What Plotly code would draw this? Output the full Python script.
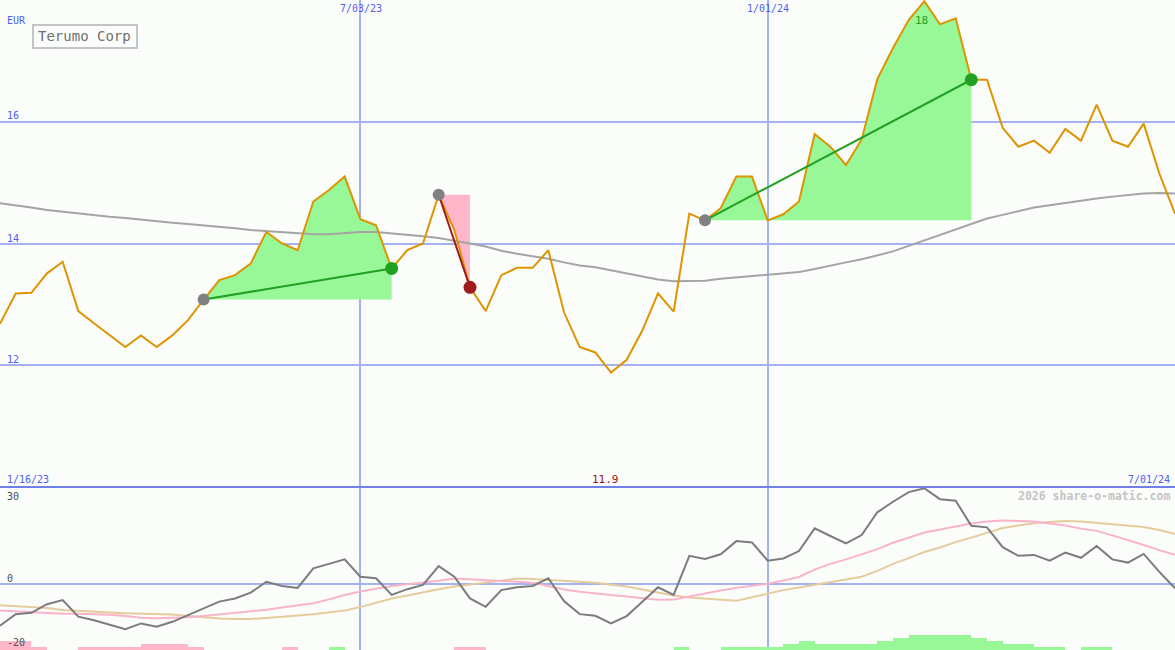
import pandas as pd
import plotly.graph_objects as go

# weekly closes, Terumo Corp (EUR)
dates = pd.date_range("2023-01-23", periods=76, freq="7D")

price = [12.68, 13.18, 13.19, 13.51, 13.70, 12.89, 12.69, 12.49, 12.30, 12.49,
         12.30, 12.49, 12.74, 13.08, 13.40, 13.48, 13.67, 14.19, 14.00, 13.89,
         14.69, 14.88, 15.10, 14.40, 14.30, 13.59, 13.89, 14.00, 14.80, 14.22,
         13.28, 12.89, 13.48, 13.60, 13.60, 13.89, 12.87, 12.30, 12.21, 11.88,
         12.09, 12.57, 13.18, 12.88, 14.49, 14.38, 14.58, 15.10, 15.10, 14.38,
         14.48, 14.69, 15.80, 15.59, 15.29, 15.71, 16.70, 17.21, 17.67, 17.98,
         17.60, 17.70, 16.69, 16.69, 15.90, 15.59, 15.69, 15.49, 15.88, 15.69,
         16.28, 15.69, 15.59, 15.97, 15.15, 14.49]

moving_avg = [14.66, 14.63, 14.59, 14.55, 14.52, 14.49, 14.46, 14.44, 14.42, 14.39,
              14.37, 14.34, 14.32, 14.30, 14.27, 14.25, 14.22, 14.20, 14.18, 14.16,
              14.15, 14.15, 14.17, 14.19, 14.19, 14.17, 14.15, 14.12, 14.09, 14.05,
              14.00, 13.95, 13.88, 13.83, 13.79, 13.75, 13.69, 13.64, 13.61, 13.56,
              13.50, 13.45, 13.41, 13.38, 13.38, 13.39, 13.42, 13.44, 13.46, 13.48,
              13.50, 13.53, 13.58, 13.64, 13.69, 13.74, 13.80, 13.87, 13.96, 14.05,
              14.14, 14.23, 14.31, 14.41, 14.47, 14.53, 14.59, 14.63, 14.67, 14.71,
              14.74, 14.77, 14.80, 14.82, 14.83, 14.82]

# lower panel: momentum and its two averages
momentum = [-13.0, -9.4, -9.0, -6.3, -5.0, -10.2, -11.3, -12.6, -14.1, -12.3,
            -13.3, -11.8, -9.7, -7.6, -5.5, -4.5, -2.7, 0.7, -0.6, -1.2,
            4.9, 6.3, 7.7, 2.3, 1.8, -3.4, -1.6, -0.3, 5.6, 2.3,
            -4.5, -7.1, -1.9, -1.0, -0.6, 1.8, -5.3, -9.4, -9.9, -12.3,
            -10.0, -5.5, -1.0, -3.4, 8.8, 7.8, 9.3, 13.4, 13.0, 7.3,
            8.0, 10.3, 17.4, 15.0, 12.7, 15.3, 22.4, 25.7, 28.7, 29.9,
            26.5, 26.0, 18.2, 17.7, 11.5, 8.8, 9.1, 7.3, 9.8, 8.2,
            11.9, 7.7, 6.7, 9.4, 3.8, -1.3]

mom_fast = [-8.3, -8.6, -8.9, -9.2, -9.3, -9.3, -9.4, -9.6, -10.0, -10.5,
            -10.7, -10.6, -10.4, -10.0, -9.5, -9.1, -8.6, -8.0, -7.3, -6.7,
            -6.0, -4.8, -3.4, -2.3, -1.4, -0.6, -0.1, 0.4, 1.0, 1.7,
            1.5, 1.2, 0.9, 0.7, 0.4, -0.6, -1.7, -2.4, -3.0, -3.4,
            -3.9, -4.4, -4.9, -4.8, -3.8, -2.8, -2.0, -1.2, -0.6, 0.1,
            1.1, 2.2, 4.5, 6.3, 7.7, 9.4, 10.9, 12.9, 14.5, 16.1,
            17.0, 18.0, 18.9, 19.5, 19.8, 19.7, 19.5, 18.9, 18.3, 17.3,
            16.6, 15.2, 13.8, 12.2, 10.6, 9.1]

mom_slow = [-6.6, -6.9, -7.1, -7.5, -8.1, -8.4, -8.8, -8.9, -9.1, -9.2,
            -9.4, -9.5, -10.0, -10.5, -10.8, -10.9, -10.9, -10.6, -10.3, -9.8,
            -9.4, -8.9, -8.3, -7.2, -5.8, -4.5, -3.6, -2.5, -1.6, -0.8,
            -0.2, 0.6, 1.1, 1.7, 1.6, 1.3, 0.9, 0.6, 0.4, -0.2,
            -0.8, -1.7, -2.7, -3.6, -4.2, -4.5, -5.0, -5.2, -4.1, -2.9,
            -1.9, -1.1, -0.3, 0.5, 1.4, 2.3, 4.1, 6.3, 8.1, 10.0,
            11.4, 13.1, 14.5, 15.9, 17.5, 18.3, 19.0, 19.4, 19.7, 19.5,
            19.1, 18.8, 18.3, 17.8, 16.9, 15.6]

histogram = [-2.8, -2.8, -0.9, 0, 0, -0.9, -0.9, -0.9, -0.9, -1.9,
             -1.9, -1.9, -0.9, 0, 0, 0, 0, 0, -0.9, 0,
             0, 0.9, 0, 0, 0, 0, 0, 0, 0, -0.9,
             -0.9, 0, 0, 0, 0, 0, 0, 0, 0, 0,
             0, 0, 0, 0.9, 0, 0, 0.9, 0.9, 0.9, 0.9,
             1.9, 2.8, 1.9, 1.9, 1.9, 1.9, 2.8, 3.8, 4.7, 4.7,
             4.7, 4.7, 3.8, 2.8, 1.9, 1.9, 0.9, 0.9, 0, 0.9,
             0.9, 0, 0, 0, 0, 0]

# (entry week, exit week) of the signalled trades
trades = [(13, 25), (28, 30), (45, 62)]

BG = "#fbfdfb"
GRID = "#a4b2f4"
BLUE_TXT = "#5060f0"
MONO = "DejaVu Sans Mono"
W, H = 1175, 650
SPLIT = 163 / H
LOW = (-20.6, 30.3)


def px(x, y):
    return x / W, 1 - y / H


fig = go.Figure()

# trade shading
for i, j in trades:
    xs = dates[i:j + 1]
    entry = price[i]
    win = price[j] > entry
    fig.add_trace(go.Scatter(x=xs, y=[entry] * len(xs), mode="lines",
                             line=dict(width=0), hoverinfo="skip"))
    fig.add_trace(go.Scatter(x=xs, y=price[i:j + 1], mode="lines", line=dict(width=0),
                             fill="tonexty", fillcolor="#98f898" if win else "#ffb6c8",
                             hoverinfo="skip"))

fig.add_trace(go.Scatter(x=dates, y=moving_avg, mode="lines",
                         line=dict(color="#a4a4a4", width=2)))
fig.add_trace(go.Scatter(x=dates, y=price, mode="lines",
                         line=dict(color="#de9400", width=2)))

for i, j in trades:
    win = price[j] > price[i]
    col = "#22a022" if win else "#a01c1c"
    fig.add_trace(go.Scatter(x=[dates[i], dates[j]], y=[price[i], price[j]], mode="lines",
                             line=dict(color=col, width=2)))
    fig.add_trace(go.Scatter(x=[dates[i]], y=[price[i]], mode="markers",
                             marker=dict(color="#808080", size=12)))
    fig.add_trace(go.Scatter(x=[dates[j]], y=[price[j]], mode="markers",
                             marker=dict(color=col, size=13)))

# lower panel
bar_x = dates + pd.Timedelta(days=3.5)
fig.add_trace(go.Bar(x=bar_x, y=[abs(v) for v in histogram], base=LOW[0],
                     width=7 * 86400000,
                     marker=dict(color=["#98f898" if v > 0 else "#ffb6c8" for v in histogram],
                                 line=dict(width=0)),
                     xaxis="x2", yaxis="y2"))
fig.add_trace(go.Scatter(x=dates, y=mom_slow, mode="lines", xaxis="x2", yaxis="y2",
                         line=dict(color="#e4cc9c", width=2)))
fig.add_trace(go.Scatter(x=dates, y=mom_fast, mode="lines", xaxis="x2", yaxis="y2",
                         line=dict(color="#f8b4c8", width=2)))
fig.add_trace(go.Scatter(x=dates, y=momentum, mode="lines", xaxis="x2", yaxis="y2",
                         line=dict(color="#7c7c7c", width=2)))

vlines = ["2023-07-03", "2024-01-01"]
xax = dict(range=[dates[0], dates[-1]], tickvals=vlines, showticklabels=False,
           showgrid=True, gridcolor=GRID, gridwidth=2, zeroline=False, showline=False,
           ticks="")
fig.update_layout(
    width=W, height=H,
    margin=dict(l=0, r=0, t=0, b=0),
    paper_bgcolor=BG, plot_bgcolor=BG,
    showlegend=False, bargap=0,
    xaxis=dict(xax, domain=[0, 1], anchor="y"),
    xaxis2=dict(xax, domain=[0, 1], anchor="y2", matches="x"),
    yaxis=dict(domain=[SPLIT, 1], range=[10, 18], tickvals=[12, 14, 16],
               showticklabels=False, gridcolor=GRID, gridwidth=2, zeroline=False),
    yaxis2=dict(domain=[0, SPLIT], range=list(LOW), tickvals=[0],
                showticklabels=False, gridcolor=GRID, gridwidth=2, zeroline=False),
)

# panel divider and name box
fig.add_shape(type="line", xref="paper", yref="paper", x0=0, x1=1, y0=SPLIT, y1=SPLIT,
              line=dict(color="#7080e8", width=2))
bx0, by0 = px(33, 48)
bx1, by1 = px(137, 25)
fig.add_shape(type="rect", xref="paper", yref="paper", x0=bx0, y0=by0, x1=bx1, y1=by1,
              line=dict(color="#c4c4c4", width=2), fillcolor=BG)


def label(text, x, y, color, size=10, anchor="left", bold=False):
    ax, ay = px(x, y)
    fig.add_annotation(text=f"<b>{text}</b>" if bold else text, x=ax, y=ay,
                       xref="paper", yref="paper", xanchor=anchor, yanchor="middle",
                       showarrow=False, font=dict(family=MONO, size=size, color=color))


label("EUR", 5, 20, BLUE_TXT)
for v, y in [("16", 116), ("14", 238), ("12", 359)]:
    label(v, 5, y, BLUE_TXT)
label("7/03/23", 361, 9, BLUE_TXT, anchor="center")
label("1/01/24", 768, 9, BLUE_TXT, anchor="center")
label("1/16/23", 5, 479, BLUE_TXT)
label("7/01/24", 1172, 479, BLUE_TXT, anchor="right")
label("Terumo Corp", 85, 36, "#707070", size=14, anchor="center")
label(f"{min(price):.1f}", 605, 479, "#a01010", size=11, anchor="center")
label(f"{max(price):.0f}", 921, 20, "#22a022", size=11, anchor="center")
label("2026 share-o-matic.com", 1172, 496, "#c4c4c4", size=11.5, anchor="right", bold=True)
for v, y in [("30", 496), ("0", 578), ("-20", 642)]:
    label(v, 5, y, "#505050")

fig.write_html("out.html", config={"displayModeBar": False},
               post_script="document.body.style.margin='0';document.body.style.overflow='hidden';")
